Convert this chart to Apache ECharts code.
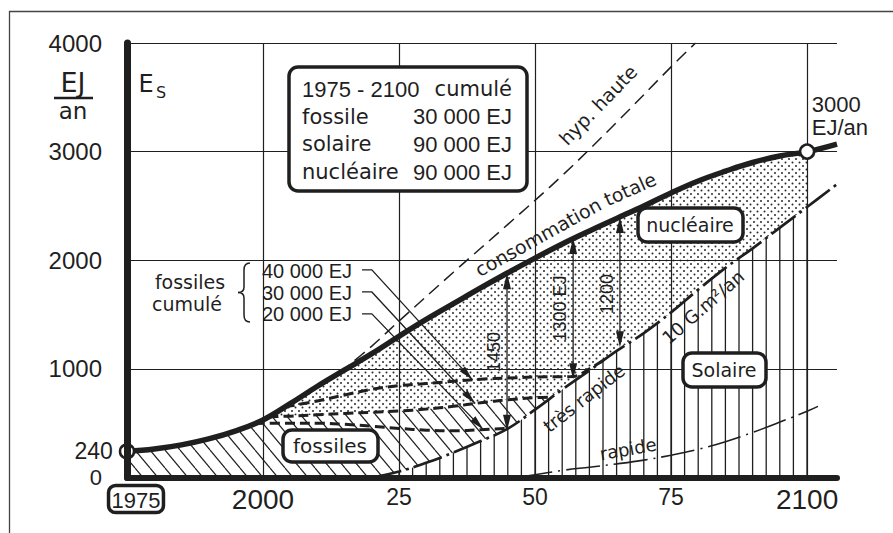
<!DOCTYPE html>
<html lang="fr">
<head>
<meta charset="utf-8">
<title>Consommation d'énergie 1975-2100</title>
<script src="https://cdn.jsdelivr.net/npm/echarts@6/dist/echarts.min.js"></script>
<style>
html,body{margin:0;padding:0;background:#fff;}
#chart{width:893px;height:533px;}
</style>
</head>
<body>
<div id="chart"></div>
<script>
// ---------- data, EJ per year ----------
const years = [1975,1980,1985,1990,1995,2000,2005,2010,2015,2020,2025,2030,2035,2040,2045,2050,2055,2060,2065,2070,2075,2080,2085,2090,2095,2100];
const totalDemand = [240,262,300,355,430,530,680,840,990,1140,1300,1455,1600,1745,1885,2020,2150,2270,2385,2500,2620,2730,2820,2900,2960,3000];
const totalDemandTail = [[2105.5,3070]];
// solar build-up "très rapide" (10 G.m²/an)
const solarVeryFast = [0,0,0,0,0,0,0,0,0,0,55,135,230,335,450,625,810,985,1165,1330,1520,1730,1930,2110,2300,2490];
const solarVeryFastTail = [[2105.5,2700]];
// solar build-up "rapide"
const solarFast = [[2047,0],[2050,25],[2055,65],[2060,95],[2065,125],[2070,160],[2075,205],[2080,260],[2085,330],[2090,415],[2095,510],[2100,610],[2102,655]];
// high-demand hypothesis
const highCase = [[2014,960],[2020,1210],[2025,1440],[2035,1890],[2045,2330],[2055,2780],[2065,3270],[2075,3780],[2079.5,4000]];
// upper edge of the fossil share for three cumulative budgets
const fossil20k = [[1998.5,498],[2005,500],[2010,500],[2015,490],[2020,472],[2025,452],[2030,436],[2035,430],[2040,440],[2045,452]];
const fossil30k = [[2001,560],[2005,565],[2010,577],[2015,590],[2020,600],[2025,612],[2030,630],[2035,655],[2040,688],[2045,715],[2050,735],[2053,740]];
const fossil40k = [[2004,650],[2010,705],[2015,760],[2020,812],[2025,845],[2030,865],[2035,885],[2040,905],[2045,915],[2050,925],[2057,930],[2060,1000],[2063,1095]];
// gaps measured between total demand and the lower shares
const gapArrows = [
  {year:2044.85, top:1881, value:1450, unit:''},
  {year:2057,    top:2205, value:1300, unit:' EJ'},
  {year:2065.6,  top:2399, value:1200, unit:''}
];
// pointers from the cumulative budget notes to their curves
const budgetNotes = [
  {label:'40 000 EJ', start:[2018.2,1911], bend:[2020,1911], tip:[2038.5,899]},
  {label:'30 000 EJ', start:[2018.2,1708], bend:[2020,1708], tip:[2039,681]},
  {label:'20 000 EJ', start:[2018.2,1506], bend:[2020,1506], tip:[2040.5,441]}
];
const endPoints = [[1975,240],[2100,3000]];
const xTickLabels = {1975:'1975',2000:'2000',2025:'25',2050:'50',2075:'75',2100:'2100'};
const gridYears = [2000,2025,2050,2075,2100];
const gridValues = [1000,2000,3000,4000];
const summaryRows = [
  ['1975 - 2100','cumulé'],
  ['fossile','30 000 EJ'],
  ['solaire','90 000 EJ'],
  ['nucléaire','90 000 EJ']
];

// ---------- styling helpers ----------
const INK = '#1f1f1f';
const FONT = '"DejaVu Sans", "Liberation Sans", sans-serif';
const NUM = '"Liberation Sans", Arial, sans-serif';   // narrow numerals
const f = (size, fam) => size + 'px ' + (fam || FONT);

function makeTile(w, h, draw) {
  const c = document.createElement('canvas');
  c.width = w; c.height = h;
  const g = c.getContext('2d');
  g.fillStyle = '#fff'; g.fillRect(0, 0, w, h);
  draw(g);
  return {image: c, repeat: 'repeat', imageWidth: w, imageHeight: h};
}
// stipple for the nuclear share
const dotFill = makeTile(7, 7, g => {
  g.fillStyle = '#2a2a2a';
  [[1.5,1.5],[5,5]].forEach(([x,y]) => { g.beginPath(); g.arc(x, y, 1.0, 0, Math.PI*2); g.fill(); });
});
// back-slash hatch for the fossil share
const diagFill = makeTile(15, 18, g => {
  g.strokeStyle = INK; g.lineWidth = 1.2;
  [[-15,0],[0,0],[15,0]].forEach(([x0]) => { g.beginPath(); g.moveTo(x0, 0); g.lineTo(x0 + 15, 18); g.stroke(); });
});
// vertical hatch for the solar share, one line every 2.5 years
const vertFill = makeTile(68, 8, g => {
  g.strokeStyle = INK; g.lineWidth = 1.3;
  [59, 45.4, 31.8, 18.2, 4.6].forEach(x => { g.beginPath(); g.moveTo(x, 0); g.lineTo(x, 8); g.stroke(); });
});

// ---------- derived series ----------
const f30 = new Map(fossil30k);
const fossilTop = years.map((y, i) => y < 2001 ? totalDemand[i] : (f30.has(y) ? f30.get(y) : solarVeryFast[i]));
const pair = (xs, vs) => xs.map((x, i) => [x, vs[i]]);
const solarIdx = years.map((y, i) => i).filter(i => years[i] >= 2020);
const solarPts = solarIdx.map(i => [years[i], solarVeryFast[i]]);

const SMOOTH = 0.4;
function areaSeries(data, fill) {
  return {type:'line', data, smooth:SMOOTH, symbol:'none', z:1, silent:true,
    lineStyle:{width:0}, areaStyle:{color:fill, opacity:1}};
}
function curve(data, width, type, z) {
  return {type:'line', data, smooth:SMOOTH, symbol:'none', z:z || 4, silent:true,
    lineStyle:{color:INK, width, type, cap:'butt'}};
}

function arrowHead(p, q, len, half) {
  const dx = q[0]-p[0], dy = q[1]-p[1], d = Math.hypot(dx, dy), ux = dx/d, uy = dy/d;
  const bx = q[0]-ux*len, by = q[1]-uy*len;
  return {type:'polygon', shape:{points:[[q[0],q[1]],[bx-uy*half,by+ux*half],[bx+uy*half,by-ux*half]]}, style:{fill:INK}};
}

const chart = echarts.init(document.getElementById('chart'), null, {renderer:'svg'});

const label = (text, x, y, size, extra, fam) => Object.assign({type:'text', z:101, x, y,
  style:{text, font:f(size, fam), fill:INK, align:'center', verticalAlign:'middle'}}, extra || {});
const box = (x, y, w, h) => ({type:'rect', z:100, shape:{x, y, width:w, height:h, r:9},
  style:{fill:'#fff', stroke:INK, lineWidth:3.5}});
const deg = a => a * Math.PI / 180;
const qcurve = (x1, y1, cx, cy, x2, y2) => ({type:'bezierCurve', z:101,
  shape:{x1, y1, cpx1:cx, cpy1:cy, x2, y2}, style:{fill:null, stroke:INK, lineWidth:1.5}});
const seg = (x1, y1, x2, y2, w) => ({type:'line', z:101, shape:{x1, y1, x2, y2}, style:{stroke:INK, lineWidth:w || 1.5}});

const graphics = [
  {type:'rect', z:0, shape:{x:9.5, y:11.5, width:1000, height:1000}, style:{fill:'none', stroke:'#444', lineWidth:1.3}},
  // unit on the value axis
  label('EJ', 73, 82, 27),
  seg(54, 98, 93, 98, 2.5),
  label('an', 73, 111, 23),
  label('E', 146, 84, 24),
  label('S', 161, 92, 16),
  // summary box
  box(289, 67, 238, 124),
  // budget notes and their brace
  label('fossiles', 190, 282, 19),
  label('cumulé', 187, 304, 19),
  qcurve(250, 263, 244, 263, 244, 270), seg(244, 270, 244, 287),
  qcurve(244, 287, 244, 292.5, 238, 292.5), qcurve(238, 292.5, 244, 292.5, 244, 298),
  seg(244, 298, 244, 315), qcurve(244, 315, 244, 322, 250, 322),
  // region tags
  box(638, 208, 105, 34), label('nucléaire', 690, 225, 19),
  box(683, 353, 83, 34), label('Solaire', 724, 370, 19),
  box(283, 430, 95, 32), label('fossiles', 330, 446, 20),
  // curve names
  label('consommation', 538, 237, 19, {rotation:deg(29)}),
  label('totale', 630, 189, 19, {rotation:deg(24)}),
  label('hyp. haute', 598, 105, 19, {rotation:deg(46)}),
  label('très rapide', 584, 398, 18, {rotation:deg(38)}),
  label('10 G.m²/an', 703, 307, 18, {rotation:deg(41)}),
  label('rapide', 628, 449, 18, {rotation:deg(10)})
];
summaryRows.forEach((r, i) => {
  const y = 89 + i * 27.7;
  const numericLeft = i === 0;
  graphics.push({type:'text', z:101, x:302, y, style:{text:r[0], font:f(numericLeft ? 22 : 21, numericLeft ? NUM : FONT), fill:INK, align:'left', verticalAlign:'middle'}});
  graphics.push({type:'text', z:101, x:512, y, style:{text:r[1], font:f(numericLeft ? 21 : 22, numericLeft ? FONT : NUM), fill:INK, align:'right', verticalAlign:'middle'}});
});
budgetNotes.forEach((n, i) => {
  graphics.push({type:'text', z:101, x:352, y:271 + i*21.5, style:{text:n.label, font:f(20, NUM), fill:INK, align:'right', verticalAlign:'middle'}});
});

const option = {
  animation:false,
  backgroundColor:'#fff',
  grid:{left:127, right:56, top:43, bottom:55.5, containLabel:false, outerBoundsMode:'none'},
  xAxis:{type:'value', min:1975, max:2105.5, interval:25, z:10,
    axisLine:{show:true, lineStyle:{color:INK, width:6}},
    axisTick:{show:false}, splitLine:{show:false},
    axisLabel:{margin:8, color:INK, fontFamily:NUM, showMinLabel:true, showMaxLabel:true,
      formatter:v => {
        const t = xTickLabels[v];
        if (!t) return '';
        if (v === 1975) return '{sp|}{box|' + t + '}';
        return t.length === 4 ? '{big|' + t + '}' : '{small|' + t + '}';
      },
      rich:{
        sp:{width:18},
        box:{fontSize:22, fontFamily:NUM, color:INK, borderColor:INK, borderWidth:3.5, borderRadius:7, padding:[4,3,1,3]},
        big:{fontSize:28, fontFamily:NUM, color:INK},
        small:{fontSize:23, fontFamily:NUM, color:INK}
      }}
  },
  yAxis:{type:'value', min:0, max:4000, interval:1000, z:10,
    axisLine:{show:true, lineStyle:{color:INK, width:7}},
    axisTick:{show:false}, splitLine:{show:false},
    axisLabel:{margin:25, color:INK, fontFamily:NUM, fontSize:24,
      formatter:v => v === 0 ? '{s|0}' : String(v),
      rich:{s:{fontSize:22, fontFamily:NUM, color:INK}}}
  },
  graphic:{elements:graphics},
  series:[
    // shares, each opaque area painted over the previous one
    areaSeries(pair(years, totalDemand), dotFill),
    areaSeries(pair(years, fossilTop), diagFill),
    areaSeries(solarPts, vertFill),
    // grid drawn above the shaded shares
    {type:'line', data:[], z:2, silent:true,
      markLine:{silent:true, symbol:'none', label:{show:false}, animation:false,
        lineStyle:{color:INK, width:1.2, type:'solid'},
        data:gridYears.map(x => ({xAxis:x})).concat(gridValues.map(v => ({yAxis:v})))}},
    curve(highCase, 1.5, [13,7], 3),
    curve(solarFast, 1.6, [34,6,2,6], 3),
    curve(solarPts.concat(solarVeryFastTail), 2.7, [30,5,3,5], 4),
    curve(fossil20k, 3, [10,5], 4),
    curve(fossil30k, 3, [10,5], 4),
    curve(fossil40k, 3, [10,5], 4),
    curve(pair(years, totalDemand).concat(totalDemandTail), 5.5, 'solid', 5),
    // pointers from the budget notes
    {type:'custom', z:6, silent:true, data:budgetNotes.map(n => n.tip),
      renderItem:(params, api) => {
        const n = budgetNotes[params.dataIndex];
        const p = [api.coord(n.start), api.coord(n.bend), api.coord(n.tip)];
        return {type:'group', children:[
          {type:'polyline', shape:{points:p}, style:{fill:null, stroke:INK, lineWidth:1.3}},
          arrowHead(p[1], p[2], 15, 3.5)
        ]};
      }},
    // double-headed gap arrows with their values
    {type:'custom', z:6, silent:true, data:gapArrows.map(a => [a.year, a.top]),
      renderItem:(params, api) => {
        const a = gapArrows[params.dataIndex];
        const t = api.coord([a.year, a.top]), b = api.coord([a.year, a.top - a.value]);
        const nudge = [0, 0, 12][params.dataIndex];
        return {type:'group', children:[
          {type:'line', shape:{x1:t[0], y1:t[1]+8, x2:b[0], y2:b[1]-8}, style:{stroke:INK, lineWidth:1.3}},
          arrowHead(b, t, 16, 4), arrowHead(t, b, 16, 4),
          {type:'text', x:t[0]-13, y:(t[1]+b[1])/2 + nudge, rotation:Math.PI/2,
            style:{text:String(a.value) + a.unit, font:f(18, NUM), fill:INK, align:'center', verticalAlign:'middle'}}
        ]};
      }},
    // start and end of the demand curve
    {type:'scatter', z:7, silent:true, symbol:'circle', symbolSize:14,
      itemStyle:{color:'#fff', borderColor:INK, borderWidth:2.5, opacity:1},
      data:[
        {value:endPoints[0], label:{show:true, position:'left', distance:6, formatter:p => String(p.value[1]),
          fontSize:23, fontFamily:NUM, color:INK}},
        {value:endPoints[1], label:{show:true, position:[13,-50], align:'left', verticalAlign:'top', lineHeight:23,
          formatter:p => p.value[1] + '\nEJ/an', fontSize:22, fontFamily:NUM, color:INK}}
      ]}
  ]
};
chart.setOption(option);
</script>
</body>
</html>
